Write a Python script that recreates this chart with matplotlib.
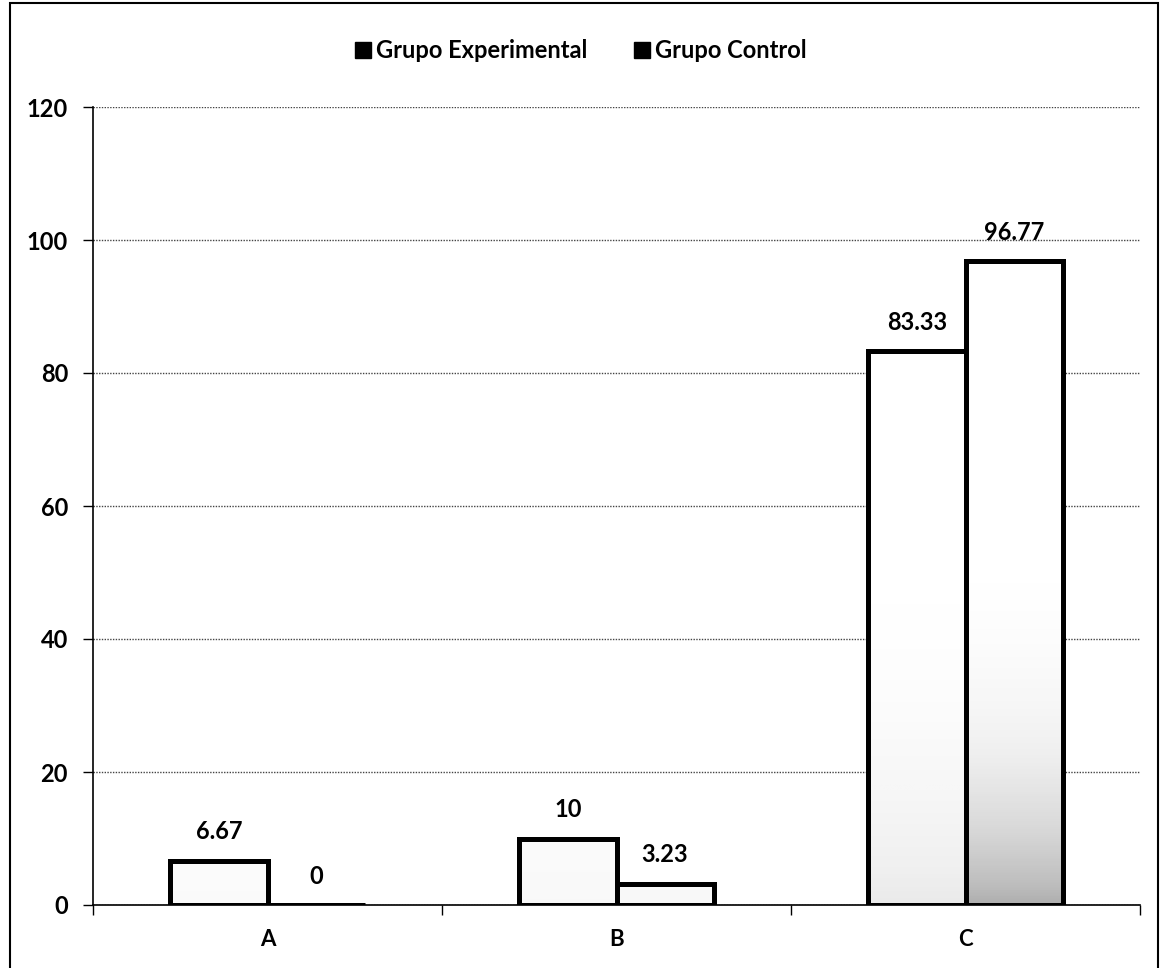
import numpy as np
import matplotlib.pyplot as plt
from matplotlib.patches import Rectangle

categories = ['A', 'B', 'C']
experimental = [6.67, 10, 83.33]
control = [0, 3.23, 96.77]
series_names = ['Grupo Experimental', 'Grupo Control']

plt.rcParams['font.family'] = ['Lato', 'DejaVu Sans']

W, H = 1162, 968
fig = plt.figure(figsize=(W / 100, H / 100), dpi=100)
ax = fig.add_axes([93 / W, 1 - 905 / H, (1140 - 93) / W, (905 - 107) / H])

x = np.arange(len(categories))
w = 0.278

bars_e = ax.bar(x - w / 2, experimental, w, facecolor='none', edgecolor='black', linewidth=3.6, zorder=3)
bars_c = ax.bar(x + w / 2, control, w, facecolor='none', edgecolor='black', linewidth=3.6, zorder=3)

# grey shading that gets darker near the base of the bars
for bars, strength in ((bars_e, 0.16), (bars_c, 0.42)):
    for b in bars:
        h = b.get_height()
        if h <= 0:
            continue
        yy = np.linspace(h, 0, 200).reshape(-1, 1)
        shade = np.clip(1 - yy / 55, 0, 1) ** 2.2 * strength * min(1, h / 40) ** 0.8
        ax.imshow(shade, cmap='Greys', vmin=0, vmax=1, aspect='auto', interpolation='bilinear',
                  extent=(b.get_x(), b.get_x() + b.get_width(), 0, h), zorder=2.5)

for bars, vals in ((bars_e, experimental), (bars_c, control)):
    for b, v in zip(bars, vals):
        ax.text(b.get_x() + b.get_width() / 2, v + 2.6, f'{v:g}', ha='center', va='bottom',
                fontsize=17, fontweight='bold', zorder=4)

ax.set_xlim(-0.5, 2.5)
ax.set_ylim(0, 120)
ax.set_yticks(range(0, 121, 20))
ax.set_xticks(x)
ax.set_xticklabels(categories)
ax.set_xticks([-0.5, 0.5, 1.5, 2.5], minor=True)
ax.tick_params(axis='x', which='major', length=0, pad=17, labelsize=16)
ax.tick_params(axis='x', which='minor', length=7, width=1, direction='out')
ax.tick_params(axis='y', length=7, width=1, labelsize=17, pad=11)
for lbl in ax.get_xticklabels() + ax.get_yticklabels():
    lbl.set_fontweight('bold')

ax.grid(axis='y', color='#444444', linestyle=(0, (1, 1)), linewidth=1, zorder=0)
ax.spines['top'].set_visible(False)
ax.spines['right'].set_visible(False)
ax.spines['left'].set_linewidth(1.2)
ax.spines['bottom'].set_linewidth(1.2)

h1 = plt.Line2D([], [], marker='s', color='black', linestyle='none', markersize=12)
h2 = plt.Line2D([], [], marker='s', color='black', linestyle='none', markersize=12)
fig.legend([h1, h2], series_names, loc='center', bbox_to_anchor=(0.499, 1 - 51 / H), ncol=2,
           frameon=False, prop={'size': 17, 'weight': 'bold'}, handletextpad=0.15,
           columnspacing=1.9, handlelength=0.8)

fig.add_artist(Rectangle((10 / W, -0.01), 1 - 14 / W, 1 - 3 / H + 0.01, transform=fig.transFigure,
                         fill=False, edgecolor='black', linewidth=1.5))

fig.savefig('out.png', dpi=100)
